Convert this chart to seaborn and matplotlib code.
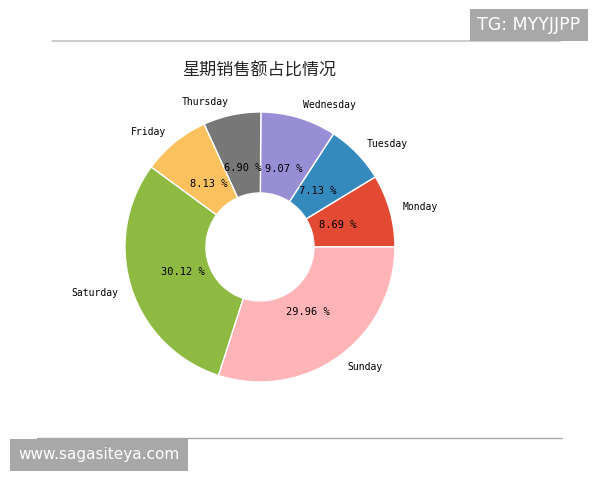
import matplotlib
matplotlib.use("Agg")
import matplotlib.pyplot as plt
import seaborn as sns
from matplotlib.lines import Line2D

# 星期销售额占比
days = ["Monday", "Tuesday", "Wednesday", "Thursday", "Friday", "Saturday", "Sunday"]
share = [8.69, 7.13, 9.07, 6.90, 8.13, 30.12, 29.96]
colors = ["#E24A33", "#348ABD", "#988ED5", "#777777", "#FBC15E", "#8EBA42", "#FFB5B8"]
title = "星期销售额占比情况"

sns.set_theme(style="white")
plt.rcParams['font.family'] = ['Noto Sans CJK SC', 'DejaVu Sans']

fig = plt.figure(figsize=(6, 4.8), dpi=100)
fig.patch.set_facecolor("white")

ax = fig.add_axes([0.152, 0.134, 0.5625, 0.703])
pal = sns.color_palette(colors)
wedges, texts, autotexts = ax.pie(
    share, labels=days, colors=pal, autopct="%.2f %%",
    startangle=0, counterclock=True, pctdistance=0.6, labeldistance=1.1,
    wedgeprops=dict(width=0.6, edgecolor="white", linewidth=1),
    textprops=dict(fontsize=7, color="black", family="DejaVu Sans Mono"))
for t in autotexts:
    t.set_fontsize(7.5)
ax.set_aspect("equal")

# 标题
fig.text(259 / 600, 1 - 71 / 480, title, ha="center", va="center", fontsize=12.3)

# 截图边框线
fig.add_artist(Line2D([52 / 600, 560 / 600], [1 - 41 / 480] * 2, color="#C4C4C4", lw=1.2))
fig.add_artist(Line2D([37 / 600, 562 / 600], [1 - 438 / 480] * 2, color="#AAAAAA", lw=1.0))

# 水印
fig.text(529 / 600, 1 - 25 / 480, "TG: MYYJJPP", ha="center", va="center",
         fontsize=12.5, color="white", family="DejaVu Sans",
         bbox=dict(boxstyle="square,pad=0.4", fc="#A8A8A8", ec="none"))
fig.text(99 / 600, 1 - 455 / 480, "www.sagasiteya.com", ha="center", va="center",
         fontsize=11, color="white", family="DejaVu Sans",
         bbox=dict(boxstyle="square,pad=0.55", fc="#A8A8A8", ec="none"))

fig.savefig("out.png", dpi=100)
